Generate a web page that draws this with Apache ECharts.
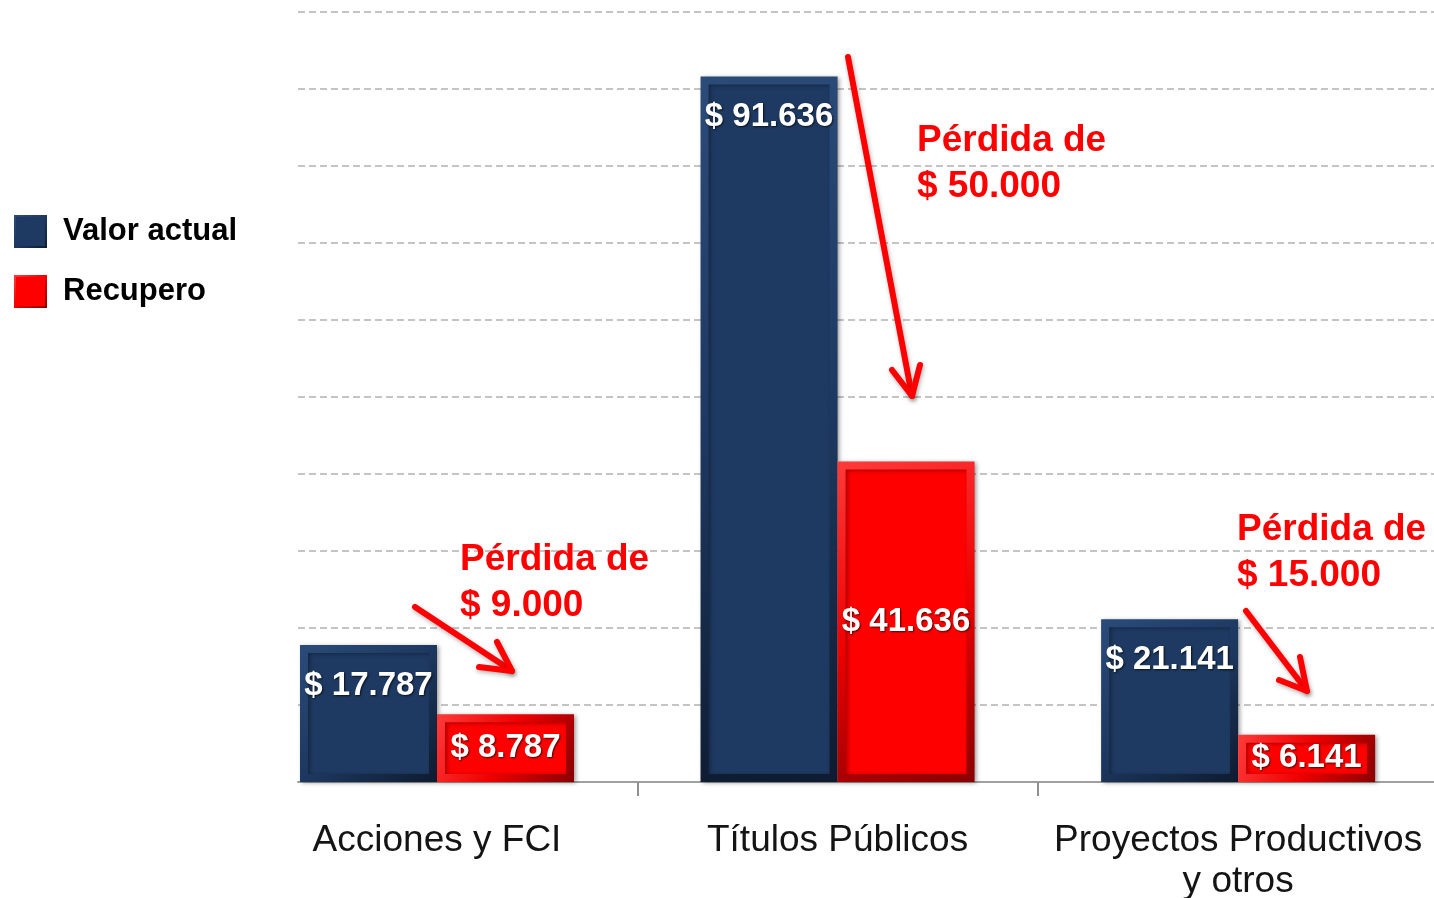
<!DOCTYPE html>
<html>
<head>
<meta charset="utf-8">
<script src="https://cdn.jsdelivr.net/npm/echarts@6/dist/echarts.min.js"></script>
<style>
html,body{margin:0;padding:0;background:#fff;}
#chart{width:1434px;height:898px;}
</style>
</head>
<body>
<div id="chart"></div>
<script>
// ---- data ----
const categories = ['Acciones y FCI', 'Títulos Públicos', 'Proyectos Productivos\ny otros'];
const valorActual = [17787, 91636, 21141];
const recupero = [8787, 41636, 6141];
const seriesNames = ['Valor actual', 'Recupero'];
const perdidas = ['$ 9.000', '$ 50.000', '$ 15.000'];

const SANS = '"Liberation Sans", Arial, sans-serif';

function fmt(v) {
  return '$ ' + String(v).replace(/\B(?=(\d{3})+(?!\d))/g, '.');
}

const chart = echarts.init(document.getElementById('chart'), null, {renderer: 'canvas'});

const blueStyle = {
  color: '#1e3a62',
  borderWidth: 8,
  borderColor: {type: 'linear', x: 0, y: 0, x2: 1, y2: 1, colorStops: [
    {offset: 0, color: '#2b4b79'}, {offset: 0.5, color: '#1d3860'}, {offset: 1, color: '#0e1b30'}]},
  shadowColor: 'rgba(0,0,0,0.35)', shadowBlur: 4, shadowOffsetX: 2, shadowOffsetY: 1
};
const redStyle = {
  color: '#ff0000',
  borderWidth: 8,
  borderColor: {type: 'linear', x: 0, y: 0, x2: 1, y2: 1, colorStops: [
    {offset: 0, color: '#ff3a3a'}, {offset: 0.5, color: '#ee0000'}, {offset: 1, color: '#8a0000'}]},
  shadowColor: 'rgba(0,0,0,0.35)', shadowBlur: 4, shadowOffsetX: 2, shadowOffsetY: 1
};

const labelStyle = {
  show: true,
  color: '#fff',
  fontFamily: SANS,
  fontWeight: 'bold',
  fontSize: 33,
  textShadowColor: 'rgba(0,0,0,0.7)',
  textShadowBlur: 2,
  textShadowOffsetX: 1,
  textShadowOffsetY: 1,
  formatter: p => fmt(p.value[1])
};

function annotText(left, top, txt) {
  return {
    type: 'text', left: left, top: top, z: 100,
    style: {text: 'Pérdida de\n' + txt, fill: '#ff0000', font: 'bold 37px ' + SANS, lineHeight: 46}
  };
}
function arrow(x1, y1, x2, y2, a1, a2) {
  const st = {stroke: '#ff0000', lineWidth: 6, lineCap: 'round', lineJoin: 'round',
    shadowColor: 'rgba(0,0,0,0.3)', shadowBlur: 4, shadowOffsetX: 1, shadowOffsetY: 2};
  return [
    {type: 'polyline', z: 100, shape: {points: [[x1, y1], [x2, y2]]}, style: st},
    {type: 'polyline', z: 100, shape: {points: [a1, [x2, y2], a2]}, style: st}
  ];
}

const option = {
  backgroundColor: '#fff',
  animation: false,
  legend: {
    orient: 'vertical', left: 9, top: 210,
    itemWidth: 31, itemHeight: 31, itemGap: 27,
    icon: 'rect',
    data: seriesNames,
    textStyle: {fontFamily: SANS, fontWeight: 'bold', fontSize: 31, color: '#000', padding: [0, 0, 0, 12], lineHeight: 31}
  },
  grid: {left: 298, right: 0, top: 12, bottom: 116, containLabel: false, outerBoundsMode: 'none'},
  xAxis: {
    type: 'value', min: -0.347, max: 2.489,
    splitLine: {show: false},
    axisLine: {show: true, lineStyle: {color: '#a0a0a0', width: 2}},
    axisTick: {show: true, customValues: [0.5, 1.5], length: 14, lineStyle: {color: '#909090', width: 2}},
    axisLabel: {
      show: true, customValues: [0, 1, 2], margin: 38, hideOverlap: false,
      fontFamily: SANS, fontSize: 37, color: '#141414', lineHeight: 41,
      formatter: v => categories[Math.round(v)]
    }
  },
  yAxis: {
    type: 'value', min: 0, max: 100000, interval: 10000,
    axisLabel: {show: false}, axisLine: {show: false}, axisTick: {show: false},
    splitLine: {show: true, lineStyle: {color: '#c4c4c4', width: 2, type: [7, 4]}}
  },
  series: [
    {
      name: seriesNames[0], type: 'bar', barWidth: 137, barGap: '0%',
      data: valorActual.map((v, i) => [i, v]),
      itemStyle: blueStyle,
      label: Object.assign({}, labelStyle, {position: 'insideTop', distance: 24})
    },
    {
      name: seriesNames[1], type: 'bar', barWidth: 137, barGap: '0%',
      data: recupero.map((v, i) => [i, v]),
      itemStyle: redStyle,
      label: Object.assign({}, labelStyle, {position: 'inside'})
    }
  ],
  graphic: [].concat(
    [annotText(460, 537, perdidas[0]), annotText(917, 118, perdidas[1]), annotText(1237, 507, perdidas[2])],
    arrow(415, 607, 512, 671, [497, 642], [479, 667]),
    arrow(848, 57, 912, 396, [920, 365], [892, 370]),
    arrow(1246, 611, 1307, 691, [1300, 657], [1279, 680])
  )
};
chart.setOption(option);
</script>
</body>
</html>
